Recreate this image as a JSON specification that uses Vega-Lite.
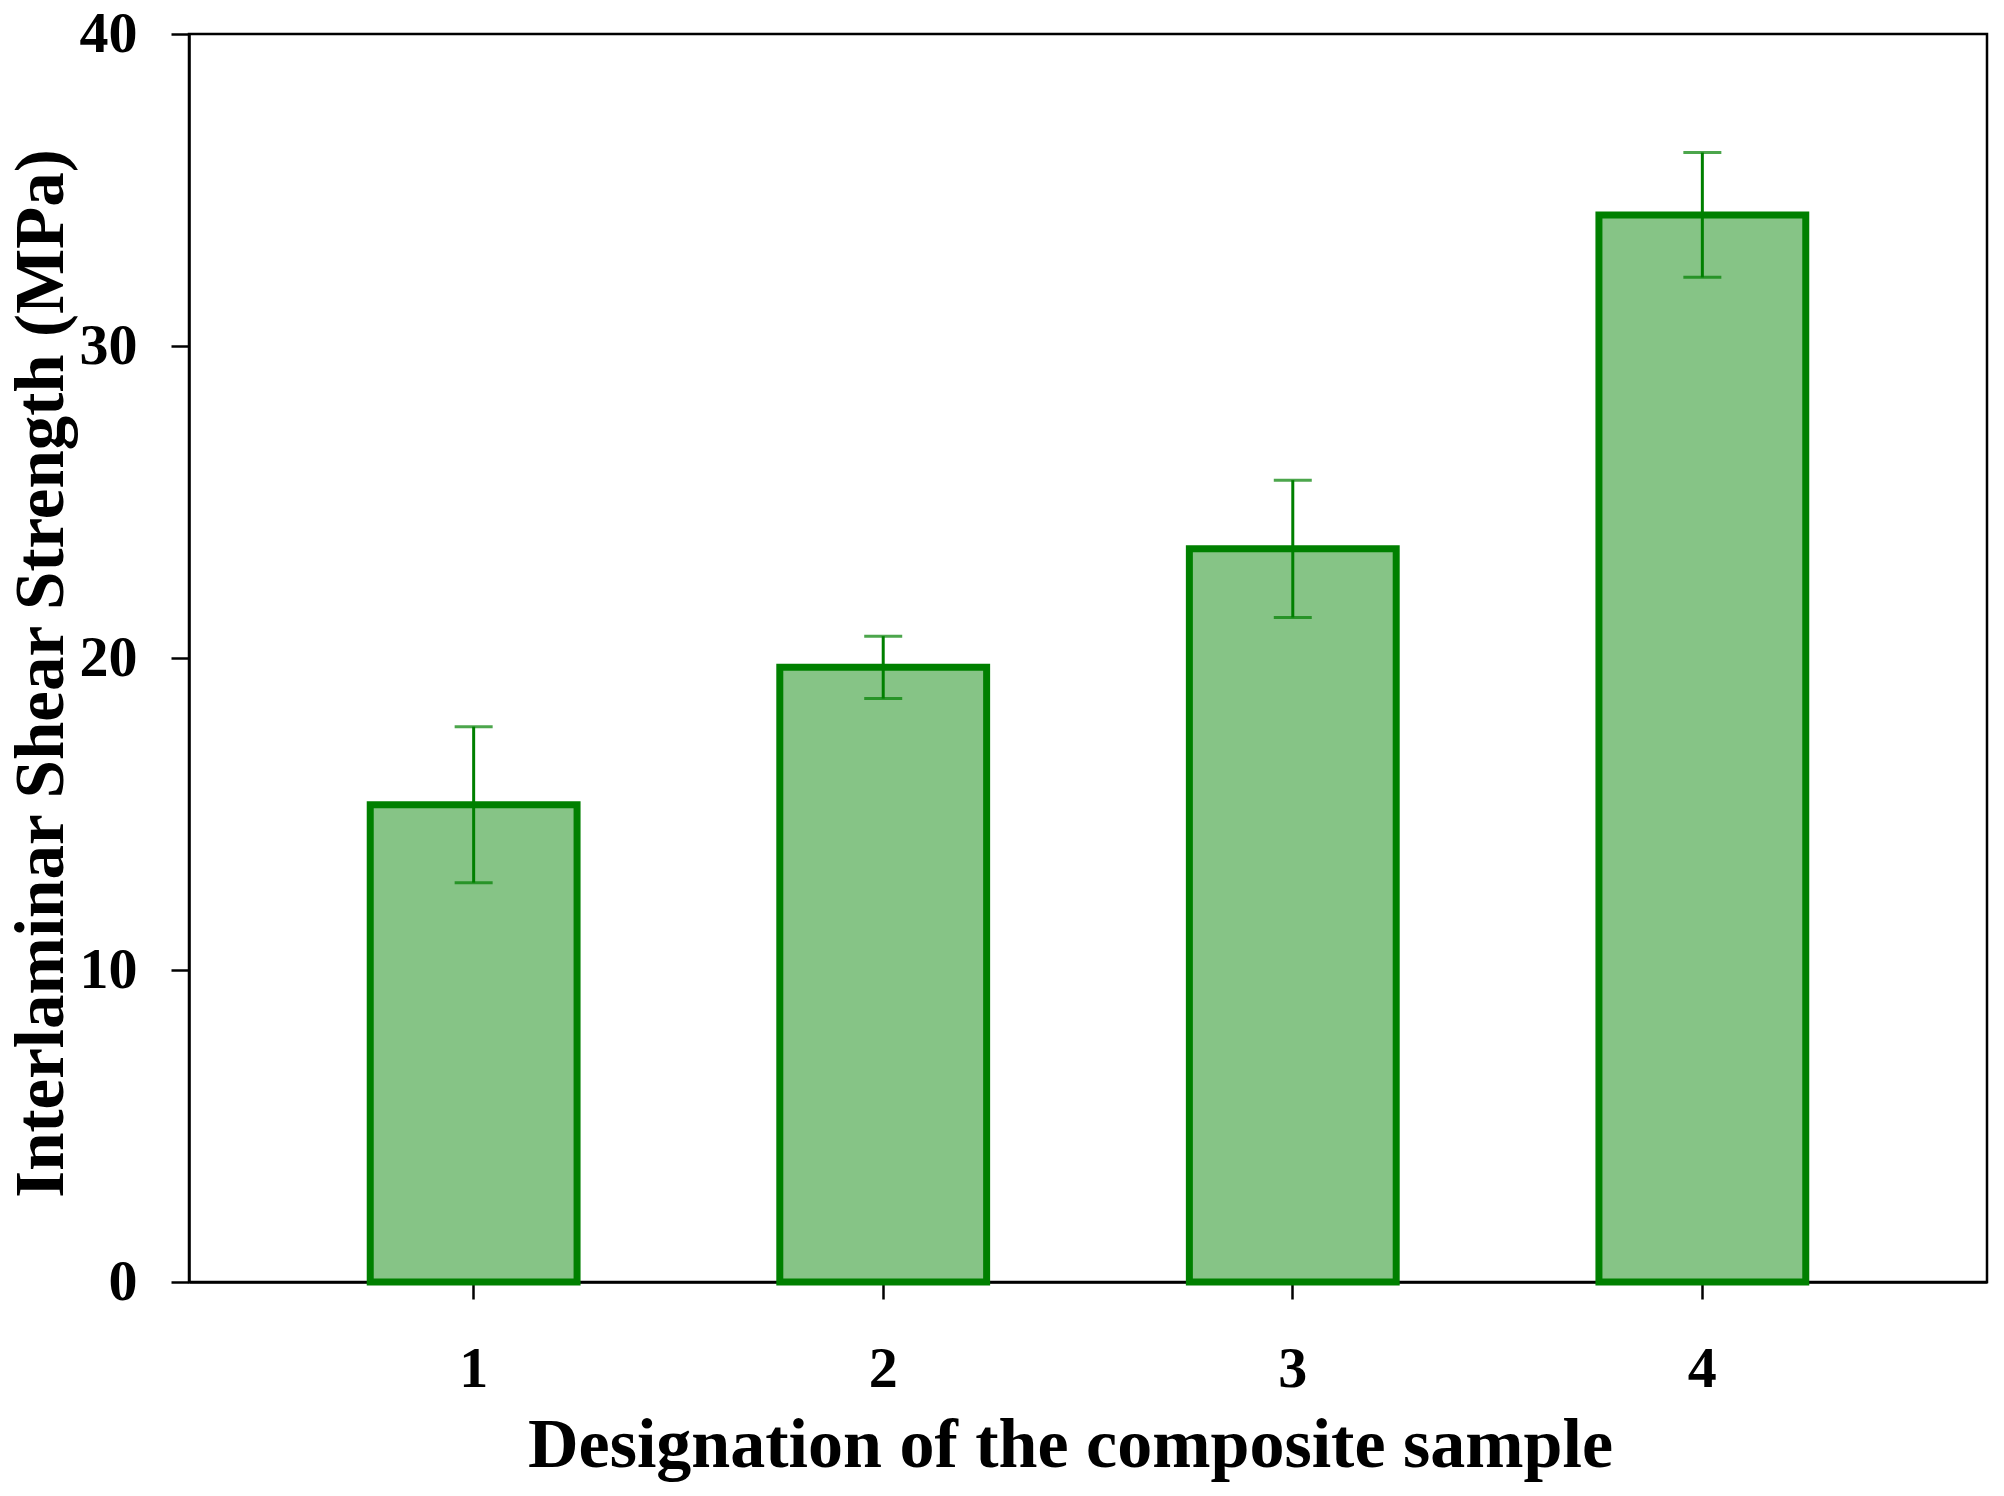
{
  "$schema": "https://vega.github.io/schema/vega-lite/v6.json",
  "autosize": {"type": "none"},
  "padding": {"left": 189, "top": 34, "right": 17, "bottom": 214},
  "width": 1798,
  "height": 1248,
  "background": "white",
  "config": {
    "view": {"stroke": "black", "strokeWidth": 2.5},
    "font": "Liberation Serif",
    "axis": {
      "labelFont": "Liberation Serif",
      "labelFontWeight": "bold",
      "labelFontSize": 58,
      "labelColor": "black",
      "titleFont": "Liberation Serif",
      "titleFontWeight": "bold",
      "titleFontSize": 70,
      "titleColor": "black",
      "domainColor": "black",
      "domainWidth": 2.5,
      "tickColor": "black",
      "tickWidth": 2.5,
      "grid": false
    }
  },
  "data": {
    "values": [
      {"sample": "1", "ilss": 15.3, "lo": 12.8, "hi": 17.8},
      {"sample": "2", "ilss": 19.7, "lo": 18.7, "hi": 20.7},
      {"sample": "3", "ilss": 23.5, "lo": 21.3, "hi": 25.7},
      {"sample": "4", "ilss": 34.2, "lo": 32.2, "hi": 36.2}
    ]
  },
  "encoding": {
    "x": {
      "field": "sample",
      "type": "ordinal",
      "scale": {"paddingInner": 0.495, "paddingOuter": 0.4425},
      "axis": {
        "title": "Designation of the composite sample",
        "labelAngle": 0,
        "tickSize": 17,
        "labelPadding": 41,
        "titlePadding": 13,
        "titleX": 881,
        "titleAlign": "center"
      }
    }
  },
  "layer": [
    {
      "mark": {"type": "bar", "fill": "#86c486", "stroke": "#008000", "strokeWidth": 7},
      "encoding": {
        "y": {
          "field": "ilss",
          "type": "quantitative",
          "scale": {"domain": [0, 40]},
          "axis": {
            "title": "Interlaminar Shear Strength (MPa)",
            "titleFontSize": 69,
            "values": [0, 10, 20, 30, 40],
            "tickSize": 18,
            "labelPadding": 34,
            "titlePadding": 3,
            "titleY": 639,
            "titleAlign": "center"
          }
        }
      }
    },
    {
      "mark": {"type": "rule", "color": "#008000", "strokeWidth": 3},
      "encoding": {
        "y": {"field": "lo", "type": "quantitative"},
        "y2": {"field": "hi"}
      }
    },
    {
      "mark": {"type": "tick", "color": "#008000", "size": 38, "thickness": 3},
      "encoding": {
        "y": {"field": "hi", "type": "quantitative"}
      }
    },
    {
      "mark": {"type": "tick", "color": "#008000", "size": 38, "thickness": 3},
      "encoding": {
        "y": {"field": "lo", "type": "quantitative"}
      }
    }
  ]
}
